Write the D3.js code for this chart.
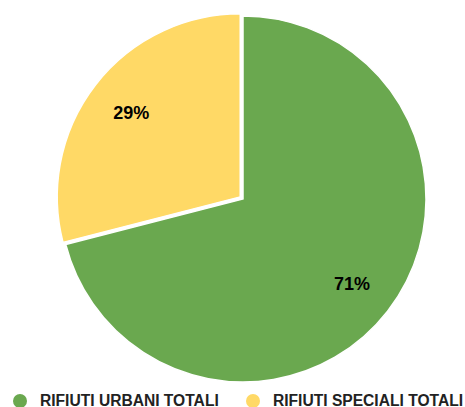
<!DOCTYPE html>
<html>
<head>
<meta charset="utf-8">
<script src="https://cdn.jsdelivr.net/npm/d3@7"></script>
<style>
  html, body { margin: 0; padding: 0; background: #fff; }
  svg { display: block; font-family: "Liberation Sans", Arial, sans-serif; }
</style>
</head>
<body>
<svg id="chart"></svg>
<script>
// chart data
const categories = ["RIFIUTI URBANI TOTALI", "RIFIUTI SPECIALI TOTALI"];
const shares = [71, 29];
const colors = ["#6aa84f", "#ffd966"];

const WIDTH = 465;
const HEIGHT = 407;
const RADIUS = 183;
const CX = 243;
const CY = 199;

const svg = d3.select('#chart')
    .attr('width', WIDTH)
    .attr('height', HEIGHT);

const data = categories.map((c, i) => ({ name: c, value: shares[i], color: colors[i] }));

const pie = d3.pie().sort(null).value(d => d.value);
const arcs = pie(data);

const arc = d3.arc().innerRadius(0).outerRadius(RADIUS);
const labelArc = d3.arc().innerRadius(138).outerRadius(138);

// the small slice is pulled out a little
const offset = d => {
    if (d.index === 0) return [0, 0];
    const mid = (d.startAngle + d.endAngle) / 2;
    return [Math.sin(mid) * 3.5, -Math.cos(mid) * 3.5];
};

const slices = svg.append('g')
    .attr('transform', `translate(${CX},${CY})`)
    .selectAll('g')
    .data(arcs)
    .enter()
    .append('g')
    .attr('transform', d => `translate(${offset(d)[0]},${offset(d)[1]})`);

slices.append('path')
    .attr('d', arc)
    .attr('fill', d => d.data.color)
    .attr('stroke', '#fff')
    .attr('stroke-width', 1.5);

slices.append('text')
    .attr('x', d => labelArc.centroid(d)[0])
    .attr('y', d => labelArc.centroid(d)[1])
    .attr('dy', '0.35em')
    .attr('text-anchor', 'middle')
    .attr('font-size', 18)
    .attr('font-weight', 'bold')
    .attr('fill', '#000')
    .text(d => d.data.value + '%');

// legend
const legendX = d3.scalePoint().domain(categories).range([20, 253]);

const legend = svg.append('g')
    .selectAll('g')
    .data(data)
    .enter()
    .append('g')
    .attr('transform', d => `translate(${legendX(d.name)},401)`);

legend.append('circle')
    .attr('r', 7)
    .attr('fill', d => d.color);

legend.append('text')
    .attr('x', 20)
    .attr('y', 5)
    .attr('font-size', 15.6)
    .attr('font-weight', 'bold')
    .attr('fill', '#222')
    .text(d => d.name);
</script>
</body>
</html>
